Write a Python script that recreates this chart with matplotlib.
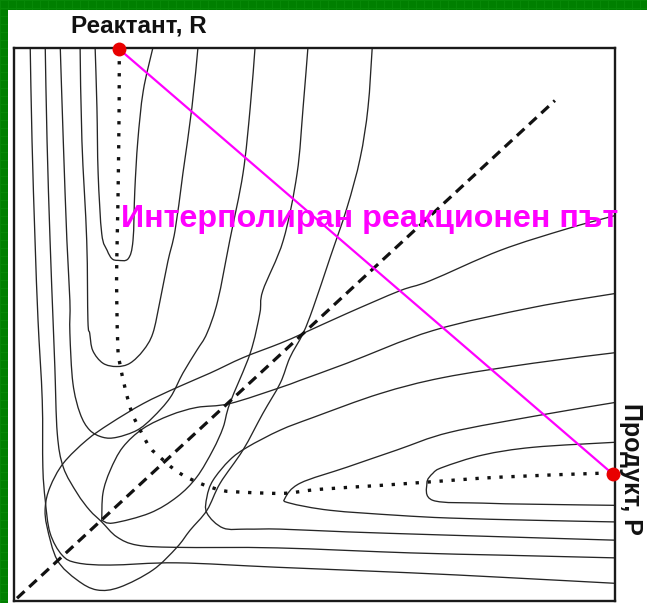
import numpy as np
import matplotlib
matplotlib.use("Agg")
import matplotlib.pyplot as plt
from matplotlib.patches import PathPatch
from matplotlib.path import Path

# ---- potential-energy contour lines (coordinates in arbitrary units 0-100) ----
# reactant-valley contours (open towards the top edge)
r_u1_x = [13.5, 13.8, 14.0, 14.6, 15.5, 16.3, 17.3, 19.0, 19.8, 20.1, 20.6, 21.5, 23.1]
r_u1_y = [100, 89.2, 77.3, 66.4, 63.4, 61.9, 61.6, 61.9, 65.2, 74.2, 83.2, 92.2, 100]

r_u2_x = [11.0, 11.3, 12.1, 12.3, 12.6, 13.1, 14.8, 17.1, 19.3, 21.5, 23.1, 24.3,
          25.6, 26.8, 28.1, 29.6, 30.6]
r_u2_y = [100, 83.2, 65.2, 50.7, 48.4, 45.3, 43.0, 42.4, 43.0, 45.3, 48.4, 54.3,
          61.4, 67.0, 77.3, 89.2, 100]

r_u3_x = [7.7, 8.2, 8.8, 9.3, 9.3, 9.8, 11.0, 12.6, 14.8, 17.1, 20.5, 23.1, 26.0,
          28.1, 30.4, 32.1, 33.9, 35.9, 38.1, 39.3, 40.1]
r_u3_y = [100, 83.2, 65.2, 54.3, 48.4, 39.4, 33.9, 30.9, 29.6, 29.6, 30.9, 33.2, 36.8,
          41.2, 45.3, 48.4, 54.3, 65.2, 77.3, 89.2, 100]

# product-valley contours (open towards the right edge)
p_u1_x = [100, 86.4, 78.0, 71.4, 69.7, 68.7, 69.7, 78.0, 86.4, 100]
p_u1_y = [28.7, 27.8, 26.4, 24.2, 23.1, 21.3, 18.2, 17.7, 17.5, 17.3]

p_u2_x = [100, 87.5, 72.5, 63.7, 55.4, 47.6, 45.1, 45.9, 52.6, 63.7, 72.5, 86.4, 100]
p_u2_y = [35.9, 33.6, 30.5, 27.3, 24.2, 21.3, 18.6, 17.7, 16.4, 15.5, 15.0, 14.6, 14.3]

p_u3_x = [100, 86.4, 71.4, 60.9, 49.8, 44.3, 38.8, 35.9, 33.1, 32.1, 32.1, 34.8, 38.8,
          44.3, 55.4, 72.5, 100]
p_u3_y = [44.9, 43.0, 40.4, 37.5, 33.2, 30.9, 27.8, 25.5, 21.8, 18.8, 15.9, 13.2, 13.0,
          13.0, 12.5, 11.9, 11.0]

# outer L-shaped contours (wall on the left, floor at the bottom)
l_45_x = [5.2, 5.5, 6.0, 6.5, 6.8, 7.2, 8.2, 10.5, 12.6, 14.6, 17.1, 20.5, 27.1, 43.8,
          65.9, 80.9, 100]
l_45_y = [100, 83.2, 65.2, 50.7, 42.2, 30.3, 24.2, 19.5, 16.4, 14.3, 11.6, 10.1, 9.7, 9.6,
          8.7, 8.3, 7.8]

l_30_x = [2.7, 3.0, 3.5, 4.0, 4.7, 4.8, 5.2, 6.0, 8.0, 10.5, 16.0, 27.1, 43.8, 65.9, 80.9, 100]
l_30_y = [100, 83.2, 65.2, 50.7, 36.3, 24.2, 18.2, 12.3, 8.3, 6.9, 6.5, 6.9, 6.1, 5.1, 4.3, 3.2]

# self-crossing contour whose lens along the diagonal ends in a sharp tip
lens_in_x = [100, 86.4, 69.7, 55.4, 47.6, 44.3, 35.9, 30.4, 26.0, 21.5, 18.1, 16.0, 14.8, 14.6]
lens_in_y = [55.6, 53.1, 48.9, 43.0, 39.9, 38.6, 35.7, 35.0, 33.6, 31.2, 27.8, 23.6, 19.5, 14.6]
lens_out_x = [14.6, 16.5, 22.6, 27.1, 30.4, 33.1, 34.8, 35.9, 39.3, 40.9, 41.4, 44.8, 47.1,
              48.1, 48.9]
lens_out_y = [14.6, 14.1, 15.9, 18.8, 22.4, 27.3, 31.4, 35.7, 44.8, 52.0, 56.1, 65.2, 77.3,
              89.2, 100]

# large loop around the lower-left corner
loop_x = [59.6, 58.9, 57.6, 55.4, 52.6, 49.8, 48.1, 45.9, 44.3, 41.4, 38.1, 34.3, 32.1, 29.3,
          27.1, 23.1, 17.6, 13.8, 10.5, 7.2, 5.5, 5.2, 6.0, 8.2, 12.1, 16.0, 21.5, 27.1,
          32.6, 38.1, 44.3, 48.1, 55.4, 64.2, 69.2, 80.9, 92.0, 100]
loop_y = [100, 89.2, 80.1, 71.1, 62.1, 53.1, 48.4, 44.0, 39.4, 33.9, 27.3, 21.3, 16.4, 12.8,
          9.7, 5.6, 2.5, 2.0, 3.8, 7.4, 13.4, 17.0, 20.6, 24.9, 29.1, 32.1, 35.7, 38.6,
          41.2, 44.0, 46.6, 48.4, 52.0, 56.1, 57.9, 63.4, 67.3, 69.7]

contours = [
    (r_u1_x, r_u1_y), (r_u2_x, r_u2_y), (r_u3_x, r_u3_y),
    (p_u1_x, p_u1_y), (p_u2_x, p_u2_y), (p_u3_x, p_u3_y),
    (l_45_x, l_45_y), (l_30_x, l_30_y),
    (lens_in_x, lens_in_y), (lens_out_x, lens_out_y), (loop_x, loop_y),
]

# minimum-energy path (dotted)
path_x = [17.5, 17.5, 17.3, 17.1, 17.1, 17.3, 17.6, 18.5, 19.6, 21.0, 22.6, 24.3, 27.3,
          30.9, 34.6, 37.6, 42.1, 45.4, 50.9, 60.9, 68.7, 80.9, 97.5, 99.5]
path_y = [99.8, 90.4, 72.4, 61.6, 54.3, 45.3, 43.0, 38.4, 34.1, 30.9, 27.8, 26.0, 23.3,
          21.3, 20.0, 19.7, 19.5, 19.5, 20.2, 20.9, 21.5, 22.4, 23.1, 23.1]

# symmetric-stretch diagonal (dashed)
diag_x = [0.5, 90.0]
diag_y = [0.5, 90.5]

# end points
reactant = (17.5, 99.8)
product = (99.7, 22.9)

label_reactant = "Реактант, R"
label_product = "Продукт, P"
label_path = "Интерполиран реакционен път"


def smooth_curve(xs, ys):
    """Cubic Bezier path through the given points (Catmull-Rom tangents)."""
    pts = np.column_stack([xs, ys]).astype(float)
    n = len(pts)
    verts = [pts[0]]
    codes = [Path.MOVETO]
    for i in range(n - 1):
        p0 = pts[i - 1] if i > 0 else pts[i]
        p1, p2 = pts[i], pts[i + 1]
        p3 = pts[i + 2] if i + 2 < n else pts[i + 1]
        verts += [p1 + (p2 - p0) / 6.0, p2 - (p3 - p1) / 6.0, p2]
        codes += [Path.CURVE4] * 3
    return Path(verts, codes)


# ---- figure ----
W, H = 647, 603
fig = plt.figure(figsize=(W / 100, H / 100), dpi=100, facecolor="#008000")

# slide background: green frame with a faint grid texture, white panel
bg = fig.add_axes([0, 0, 1, 1], zorder=-10)
bg.axis("off")
tex = np.empty((H, W, 3))
tex[:] = (0.0, 0.50, 0.0)
tex[::8, :] = (0.03, 0.535, 0.03)
tex[:, ::8] = (0.03, 0.535, 0.03)
tex[10:, 8:] = 1.0
bg.imshow(tex, interpolation="nearest", aspect="auto", extent=(0, W, H, 0))
bg.set_xlim(0, W)
bg.set_ylim(H, 0)

ax = fig.add_axes([14 / W, 2 / H, 601 / W, 553 / H])
ax.set_zorder(2)
ax.set_xlim(0, 100)
ax.set_ylim(0, 100)
ax.set_xticks([])
ax.set_yticks([])
ax.set_facecolor("white")
for sp in ax.spines.values():
    sp.set_linewidth(1.7)
    sp.set_color("#1a1a1a")

for cx, cy in contours:
    ax.add_patch(PathPatch(smooth_curve(cx, cy), fill=False, edgecolor="#262626",
                           lw=0.95, capstyle="round"))

ax.plot(diag_x, diag_y, color="#111111", lw=2.3, linestyle=(0, (3.2, 2.0)))
ax.add_patch(PathPatch(smooth_curve(path_x, path_y), fill=False, edgecolor="#111111",
                       lw=2.4, linestyle=(0, (1.0, 2.6))))

ax.plot([reactant[0], product[0]], [reactant[1], product[1]], color="#ff00ff", lw=1.6,
        zorder=4)
ax.plot([reactant[0], product[0]], [reactant[1], product[1]], "o", color="#e80000",
        markersize=10, markeredgewidth=0, clip_on=False, zorder=5)

font = "Liberation Sans"
ax.text(20.8, 103.9, label_reactant, ha="center", va="center", fontsize=17.5,
        fontweight="bold", family=font, color="#111111", clip_on=False)
ax.text(102.7, 23.8, label_product, ha="center", va="center", fontsize=18,
        fontweight="bold", family=font, color="#111111", rotation=-90, clip_on=False)
ax.text(59.2, 69.0, label_path, ha="center", va="center", fontsize=23.2,
        fontweight="bold", family=font, color="#ff00ff", zorder=6)

fig.savefig("out.png", dpi=100, facecolor=fig.get_facecolor())
